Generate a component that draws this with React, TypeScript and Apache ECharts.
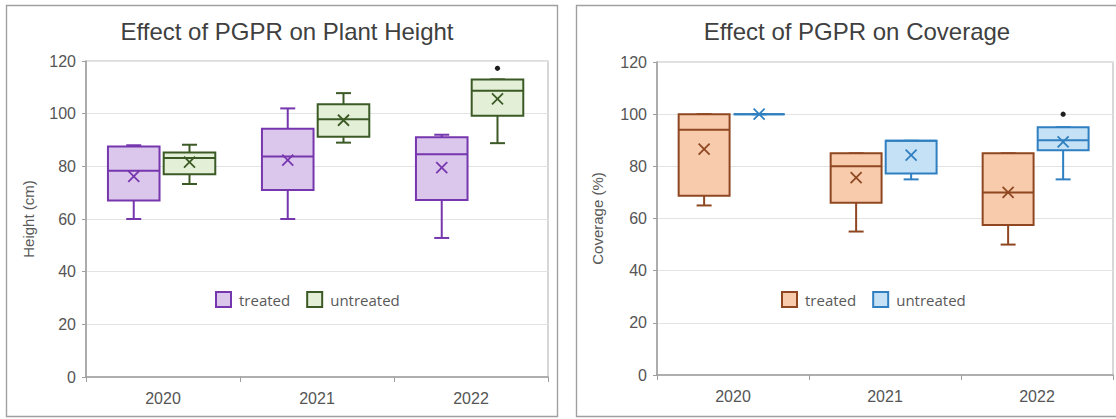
import React, { useEffect, useRef } from "react";
import * as echarts from "echarts";

const years = ["2020", "2021", "2022"];
const seriesNames = ["treated", "untreated"];

// each box: [min, Q1, median, Q3, max]
const heightTreated = [
  [60, 67, 78.3, 87.5, 88],
  [60, 71, 83.7, 94.3, 102],
  [52.8, 67.2, 84.6, 91, 92],
];
const heightTreatedMean = [76.2, 82.4, 79.5];
const heightUntreated = [
  [73.3, 77, 83.2, 85.3, 88.2],
  [89, 91.2, 97.9, 103.6, 107.8],
  [88.8, 99.2, 108.7, 113, 113],
];
const heightUntreatedMean = [81.6, 97.5, 105.6];
const heightUntreatedOutliers = [[2, 117.2]];

const coverageTreated = [
  [65, 68.7, 94, 100, 100],
  [55, 66, 80, 85, 85],
  [50, 57.5, 70, 85, 85],
];
const coverageTreatedMean = [86.6, 75.7, 70];
const coverageUntreated = [
  [100, 100, 100, 100, 100],
  [75, 77.3, 89.8, 89.8, 89.8],
  [75, 86.2, 90, 95, 95],
];
const coverageUntreatedMean = [100, 84.3, 89.4];
const coverageUntreatedOutliers = [[2, 100]];

const FONT = "'Liberation Sans', Arial, sans-serif";
const LEGEND_FONT = "'Open Sans', 'Noto Sans', sans-serif";

function boxRenderer(offsetFrac: number, widthFrac: number, stroke: string, fill: string) {
  return (params: any, api: any) => {
    const cat = api.value(0);
    const mn = api.value(1);
    const q1 = api.value(2);
    const med = api.value(3);
    const q3 = api.value(4);
    const mx = api.value(5);
    const mean = api.value(6);
    const band = api.size([1, 0])[0];
    const cx = api.coord([cat, 0])[0] + band * offsetFrac;
    const w = band * widthFrac;
    const y = (v: number) => api.coord([cat, v])[1];
    const cap = 7.5;
    const m = 5.5;
    const ls = { stroke, lineWidth: 2 };
    const ym = y(mean);
    return {
      type: "group",
      children: [
        { type: "line", shape: { x1: cx, y1: y(mn), x2: cx, y2: y(q1) }, style: ls },
        { type: "line", shape: { x1: cx, y1: y(q3), x2: cx, y2: y(mx) }, style: ls },
        { type: "line", shape: { x1: cx - cap, y1: y(mn), x2: cx + cap, y2: y(mn) }, style: ls },
        { type: "line", shape: { x1: cx - cap, y1: y(mx), x2: cx + cap, y2: y(mx) }, style: ls },
        {
          type: "rect",
          shape: { x: cx - w / 2, y: y(q3), width: w, height: y(q1) - y(q3) },
          style: { fill, stroke, lineWidth: 2 },
        },
        { type: "line", shape: { x1: cx - w / 2, y1: y(med), x2: cx + w / 2, y2: y(med) }, style: ls },
        { type: "line", shape: { x1: cx - m, y1: ym - m, x2: cx + m, y2: ym + m }, style: { stroke, lineWidth: 1.8 } },
        { type: "line", shape: { x1: cx - m, y1: ym + m, x2: cx + m, y2: ym - m }, style: { stroke, lineWidth: 1.8 } },
      ],
    };
  };
}

function outlierRenderer(offsetFrac: number) {
  return (params: any, api: any) => {
    const cat = api.value(0);
    const band = api.size([1, 0])[0];
    const p = api.coord([cat, api.value(1)]);
    return {
      type: "circle",
      shape: { cx: p[0] + band * offsetFrac, cy: p[1], r: 2.6 },
      style: { fill: "#1e1e1e" },
    };
  };
}

type Cfg = {
  title: string;
  titleX: number;
  yName: string;
  yNameGap: number;
  panel: number[];
  grid: { left: number; right: number; top: number; bottom: number };
  legendLeft: number;
  treated: number[][];
  treatedMean: number[];
  untreated: number[][];
  untreatedMean: number[];
  outliers: number[][];
  colors: { tStroke: string; tFill: string; uStroke: string; uFill: string };
};

const OFF_T = -0.19;
const OFF_U = 0.172;
const BOX_W = 0.335;

function buildOption(c: Cfg) {
  const toData = (boxes: number[][], means: number[]) =>
    years.map((_, i) => [i, ...boxes[i], means[i]]);
  return {
    animation: false,
    title: {
      text: c.title,
      left: c.titleX,
      textAlign: "center",
      top: 14,
      textStyle: { fontSize: 24, fontWeight: "normal", color: "#404040", fontFamily: FONT },
    },
    graphic: [
      {
        type: "rect",
        silent: true,
        z: -10,
        shape: { x: c.panel[0], y: c.panel[1], width: c.panel[2], height: c.panel[3] },
        style: { fill: "none", stroke: "#a0a0a0", lineWidth: 1.4 },
      },
    ],
    grid: { ...c.grid, show: true, borderColor: "#bdbdbd", borderWidth: 1.2, backgroundColor: "transparent" },
    legend: {
      left: c.legendLeft,
      top: 291,
      padding: 0,
      itemWidth: 15,
      itemHeight: 15,
      itemGap: 16,
      icon: "rect",
      textStyle: { fontSize: 15, color: "#595959", fontFamily: LEGEND_FONT, padding: [0, 0, 0, 3] },
      data: [
        { name: seriesNames[0], itemStyle: { color: c.colors.tFill, borderColor: c.colors.tStroke, borderWidth: 2 } },
        { name: seriesNames[1], itemStyle: { color: c.colors.uFill, borderColor: c.colors.uStroke, borderWidth: 2 } },
      ],
    },
    xAxis: {
      type: "category",
      data: years,
      boundaryGap: true,
      axisLine: { lineStyle: { color: "#9e9e9e", width: 1.5 } },
      axisTick: { show: true, length: 5, lineStyle: { color: "#9e9e9e" } },
      axisLabel: { fontSize: 16, color: "#555555", fontFamily: FONT, margin: 13 },
      splitLine: { show: false },
    },
    yAxis: {
      type: "value",
      min: 0,
      max: 120,
      interval: 20,
      name: c.yName,
      nameLocation: "middle",
      nameGap: c.yNameGap,
      nameTextStyle: { fontSize: 15, color: "#595959", fontFamily: FONT },
      axisLine: { show: true, lineStyle: { color: "#9e9e9e", width: 1.5 } },
      axisTick: { show: true, length: 4, lineStyle: { color: "#9e9e9e" } },
      axisLabel: { fontSize: 16, color: "#555555", fontFamily: FONT, margin: 10 },
      splitLine: { show: true, lineStyle: { color: "#e3e3e3", width: 1.2 } },
    },
    series: [
      {
        name: seriesNames[0],
        type: "custom",
        itemStyle: { color: c.colors.tFill, borderColor: c.colors.tStroke },
        renderItem: boxRenderer(OFF_T, BOX_W, c.colors.tStroke, c.colors.tFill),
        encode: { x: 0, y: [1, 2, 3, 4, 5, 6] },
        data: toData(c.treated, c.treatedMean),
      },
      {
        name: seriesNames[1],
        type: "custom",
        itemStyle: { color: c.colors.uFill, borderColor: c.colors.uStroke },
        renderItem: boxRenderer(OFF_U, BOX_W, c.colors.uStroke, c.colors.uFill),
        encode: { x: 0, y: [1, 2, 3, 4, 5, 6] },
        data: toData(c.untreated, c.untreatedMean),
      },
      {
        name: "outliers",
        type: "custom",
        renderItem: outlierRenderer(OFF_U),
        encode: { x: 0, y: 1 },
        data: c.outliers,
      },
    ],
  };
}

const leftCfg: Cfg = {
  title: "Effect of PGPR on Plant Height",
  titleX: 282,
  yName: "Height (cm)",
  yNameGap: 50,
  panel: [6.5, 5.5, 551, 411],
  grid: { left: 86, right: 12, top: 61, bottom: 42 },
  legendLeft: 215,
  treated: heightTreated,
  treatedMean: heightTreatedMean,
  untreated: heightUntreated,
  untreatedMean: heightUntreatedMean,
  outliers: heightUntreatedOutliers,
  colors: { tStroke: "#7636ad", tFill: "#dcc7ec", uStroke: "#3b5a25", uFill: "#e3efd6" },
};

const rightCfg: Cfg = {
  title: "Effect of PGPR on Coverage",
  titleX: 292,
  yName: "Coverage (%)",
  yNameGap: 52,
  panel: [16.5, 5.5, 560, 411],
  grid: { left: 97, right: 3, top: 62, bottom: 44 },
  legendLeft: 221,
  treated: coverageTreated,
  treatedMean: coverageTreatedMean,
  untreated: coverageUntreated,
  untreatedMean: coverageUntreatedMean,
  outliers: coverageUntreatedOutliers,
  colors: { tStroke: "#8e4720", tFill: "#f8cbad", uStroke: "#2f7fc1", uFill: "#c4e1f6" },
};

function Chart({ cfg, left, width }: { cfg: Cfg; left: number; width: number }) {
  const ref = useRef<HTMLDivElement>(null);
  useEffect(() => {
    if (!ref.current) return;
    const chart = echarts.init(ref.current, undefined, { renderer: "svg" });
    chart.setOption(buildOption(cfg) as any);
    return () => chart.dispose();
  }, [cfg]);
  return (
    <div
      ref={ref}
      style={{ position: "absolute", left, top: 0, width, height: 419 }}
    />
  );
}

export default function App() {
  return (
    <div style={{ position: "fixed", left: 0, top: 0, width: 1116, height: 419, background: "#fff", overflow: "hidden" }}>
      <Chart cfg={leftCfg} left={0} width={560} />
      <Chart cfg={rightCfg} left={560} width={556} />
    </div>
  );
}
